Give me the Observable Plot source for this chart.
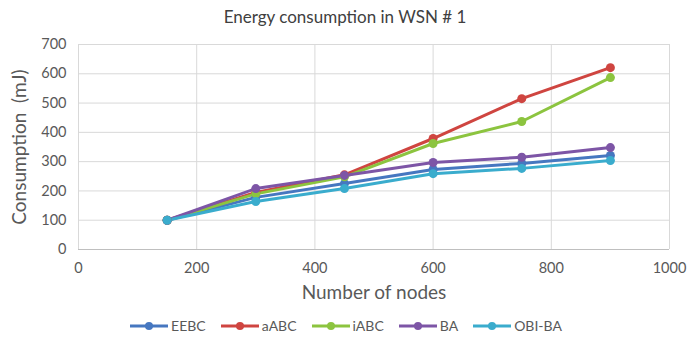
<!DOCTYPE html>
<html>
<head>
<meta charset="utf-8">
<script src="https://cdn.jsdelivr.net/npm/d3@7"></script>
<script src="https://cdn.jsdelivr.net/npm/@observablehq/plot@0.6"></script>
<style>
  html, body { margin: 0; padding: 0; background: #fff; }
  #chart { width: 690px; height: 343px; font-family: "Lato", "Open Sans", sans-serif; color: #595959; }
  #title { height: 34px; line-height: 34px; text-align: center; font-size: 17px; color: #404040; }
  #legend { display: flex; justify-content: center; gap: 15px; font-size: 14px; margin-top: 8px; padding-left: 2px; }
  .item { display: flex; align-items: center; gap: 3px; }
  .item svg { display: block; }
</style>
</head>
<body>
<div id="chart">
  <div id="title">Energy consumption in WSN # 1</div>
  <div id="plot"></div>
  <div id="legend"></div>
</div>
<script>
// Number of nodes on the x axis
const nodes = [150, 300, 450, 600, 750, 900];

// Energy consumption (mJ) per algorithm
const seriesNames = ["EEBC", "aABC", "iABC", "BA", "OBI-BA"];
const eebc  = [100, 178, 225, 273, 294, 321];
const aabc  = [100, 195, 255, 379, 515, 621];
const iabc  = [100, 190, 248, 362, 437, 587];
const ba    = [100, 208, 253, 297, 315, 348];
const obiba = [100, 164, 208, 259, 277, 304];
const colors = ["#4677c0", "#cf4540", "#8cc43f", "#7d55a6", "#3aaccd"];

const xTicks = [0, 200, 400, 600, 800, 1000];
const yTicks = [0, 100, 200, 300, 400, 500, 600, 700];

const valuesBySeries = [eebc, aabc, iabc, ba, obiba];
const rows = seriesNames.flatMap((name, i) =>
  nodes.map((n, j) => ({series: name, nodes: n, value: valuesBySeries[i][j]}))
);

const plain = d => String(d);

const chart = Plot.plot({
  width: 690,
  height: 275,
  marginLeft: 78,
  marginRight: 21,
  marginTop: 10,
  marginBottom: 60,
  style: {fontFamily: "Lato, 'Open Sans', sans-serif", fontSize: "13px", color: "#595959", background: "#fff", overflow: "visible"},
  x: {domain: [0, 1000], ticks: xTicks, tickFormat: plain, label: null},
  y: {domain: [0, 700], ticks: yTicks, tickFormat: plain, label: null},
  color: {domain: seriesNames, range: colors},
  marks: [
    Plot.gridX(xTicks, {stroke: "#d9d9d9", strokeOpacity: 1}),
    Plot.gridY(yTicks, {stroke: "#d9d9d9", strokeOpacity: 1}),
    Plot.ruleY([0], {stroke: "#bfbfbf"}),
    Plot.axisX(xTicks, {tickSize: 0, tickPadding: 13, fontSize: 14.5, tickFormat: plain, label: null}),
    Plot.axisY(yTicks, {tickSize: 0, tickPadding: 12, fontSize: 14.5, tickFormat: plain, label: null}),
    Plot.text(["Consumption  (mJ)"], {frameAnchor: "left", textAnchor: "middle", rotate: -90, dx: -59, fontSize: 19, fill: "#595959"}),
    Plot.text(["Number of nodes"], {frameAnchor: "bottom", dy: 49, fontSize: 19, fill: "#595959"}),
    Plot.line(rows, {x: "nodes", y: "value", z: "series", stroke: "series", strokeWidth: 3}),
    Plot.dot(rows, {x: "nodes", y: "value", fill: "series", r: 4.5})
  ]
});
document.getElementById("plot").appendChild(chart);

// Legend: line swatch with a marker, followed by the series name
const legend = document.getElementById("legend");
seriesNames.forEach((name, i) => {
  const item = document.createElement("div");
  item.className = "item";
  item.innerHTML =
    `<svg width="38" height="10"><line x1="0" y1="5" x2="38" y2="5" stroke="${colors[i]}" stroke-width="3"/>` +
    `<circle cx="19" cy="5" r="4" fill="${colors[i]}"/></svg><span>${name}</span>`;
  legend.appendChild(item);
});
</script>
</body>
</html>
